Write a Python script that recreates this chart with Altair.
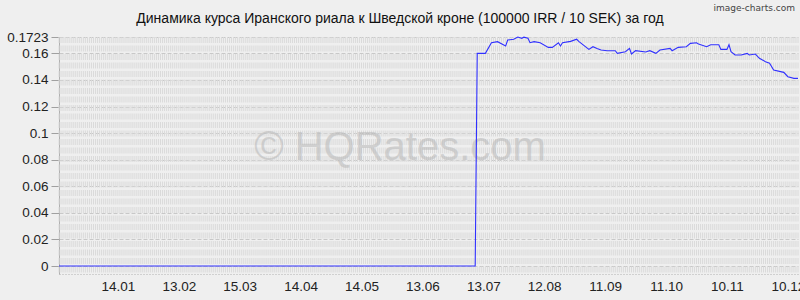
import altair as alt
import pandas as pd

# ---- data ----
dates = [
    "2024-12-16", "2025-07-09", "2025-07-10", "2025-07-14", "2025-07-17", "2025-07-20",
    "2025-07-24", "2025-07-25", "2025-07-28", "2025-07-30", "2025-08-01", "2025-08-02",
    "2025-08-04", "2025-08-05", "2025-08-07", "2025-08-10", "2025-08-14", "2025-08-16",
    "2025-08-19", "2025-08-20", "2025-08-21", "2025-08-25", "2025-08-28", "2025-08-29",
    "2025-09-03", "2025-09-05", "2025-09-07", "2025-09-09", "2025-09-12", "2025-09-16",
    "2025-09-17", "2025-09-21", "2025-09-23", "2025-09-24", "2025-09-26", "2025-10-01",
    "2025-10-03", "2025-10-06", "2025-10-08", "2025-10-13", "2025-10-14", "2025-10-17",
    "2025-10-21", "2025-10-23", "2025-10-26", "2025-10-27", "2025-10-31", "2025-11-02",
    "2025-11-06", "2025-11-07", "2025-11-10", "2025-11-11", "2025-11-12", "2025-11-14",
    "2025-11-17", "2025-11-20", "2025-11-21", "2025-11-24", "2025-11-26", "2025-11-29",
    "2025-12-01", "2025-12-03", "2025-12-08", "2025-12-10", "2025-12-13", "2025-12-15",
]
rates = [
    0.0, 0.0, 0.160, 0.160, 0.168, 0.1688,
    0.1655, 0.170, 0.1706, 0.1723, 0.1713, 0.1722,
    0.1713, 0.168, 0.1688, 0.168, 0.1645, 0.1645,
    0.168, 0.1655, 0.168, 0.169, 0.1706, 0.169,
    0.163, 0.165, 0.1637, 0.1625, 0.162, 0.162,
    0.160, 0.1612, 0.1637, 0.1595, 0.162, 0.161,
    0.162, 0.160, 0.1625, 0.1637, 0.162, 0.1645,
    0.165, 0.1675, 0.168, 0.167, 0.165, 0.1665,
    0.1665, 0.163, 0.163, 0.1665, 0.1612, 0.1588,
    0.1588, 0.160, 0.1588, 0.1595, 0.1563, 0.1537,
    0.1525, 0.1475, 0.1457, 0.1424, 0.1412, 0.1412,
]
x_tick_dates = [(2025, 1, 14), (2025, 2, 13), (2025, 3, 15), (2025, 4, 14), (2025, 5, 14),
                (2025, 6, 13), (2025, 7, 13), (2025, 8, 12), (2025, 9, 11), (2025, 10, 11),
                (2025, 11, 10), (2025, 12, 10)]
y_ticks = [0, 0.02, 0.04, 0.06, 0.08, 0.1, 0.12, 0.14, 0.16, 0.1723]
title_text = "Динамика курса Иранского риала к Шведской кроне (100000 IRR / 10 SEK) за год"

df = pd.DataFrame({"date": dates, "rate": rates})
grid_df = pd.DataFrame({"date": pd.date_range("2024-12-16", "2025-12-15", freq="D").strftime("%Y-%m-%d")})

W, H = 739, 237
FONT = "Liberation Sans"

x_scale = alt.Scale(type="utc",
                    domain=[alt.DateTime(year=2024, month=12, date=16, utc=True),
                            alt.DateTime(year=2025, month=12, date=15, utc=True)])
x_axis = alt.Axis(values=[alt.DateTime(year=y, month=m, date=d, utc=True) for y, m, d in x_tick_dates],
                  labelExpr="utcFormat(datum.value, '%d.%m')", title=None, grid=False, ticks=False,
                  labelFontSize=13.5, labelFont=FONT, labelColor="#222", labelPadding=5,
                  labelOverlap=False, labelBound=False, labelFlush=False,
                  domainColor="#b0b0b0", domainDash=[1, 2], domainWidth=1)
y_scale = alt.Scale(domain=[-0.006, 0.1723], nice=False, zero=False)
y_axis = alt.Axis(values=y_ticks, labelExpr="'' + datum.value", title=None, grid=True,
                  gridColor="#c8c8c8", gridDash=[4, 2], gridWidth=1,
                  tickColor="#a0a0a0", tickSize=8, labelPadding=3,
                  labelFontSize=13.5, labelFont=FONT, labelColor="#222",
                  domainColor="#b0b0b0")

grid = alt.Chart(grid_df).mark_rule(color="#dadada", strokeWidth=1, strokeDash=[6, 2.5]).encode(
    x=alt.X("date:T", scale=x_scale, axis=x_axis),
    y=alt.value(0), y2=alt.value(H),
)

watermark = alt.Chart(pd.DataFrame({"a": [0]})).mark_text(
    text="© HQRates.com", font=FONT, fontSize=40, color="#b8b8b8", opacity=0.55,
    align="center", baseline="alphabetic",
).encode(x=alt.value(341), y=alt.value(123))

line = alt.Chart(df).mark_line(color="#3030ff", strokeWidth=1.1).encode(
    x=alt.X("date:T", scale=x_scale, axis=x_axis),
    y=alt.Y("rate:Q", scale=y_scale, axis=y_axis),
)

title = alt.Chart(pd.DataFrame({"a": [0]})).mark_text(
    text=title_text, font=FONT, fontSize=14, color="#111",
    align="center", baseline="alphabetic",
).encode(x=alt.value(341), y=alt.value(-14))

brand = alt.Chart(pd.DataFrame({"a": [0]})).mark_text(
    text="image-charts.com", font="DejaVu Sans", fontSize=9, color="#444",
    align="right", baseline="alphabetic",
).encode(x=alt.value(736), y=alt.value(-26))

chart = alt.layer(grid, watermark, line, title, brand).properties(
    width=W, height=H,
    autosize=alt.AutoSizeParams(type="none"),
    padding={"left": 59, "top": 37, "right": 2, "bottom": 26},
    background="#efefef",
).configure_view(stroke=None)

chart.save("out.html", embed_options={"renderer": "svg", "actions": False})
